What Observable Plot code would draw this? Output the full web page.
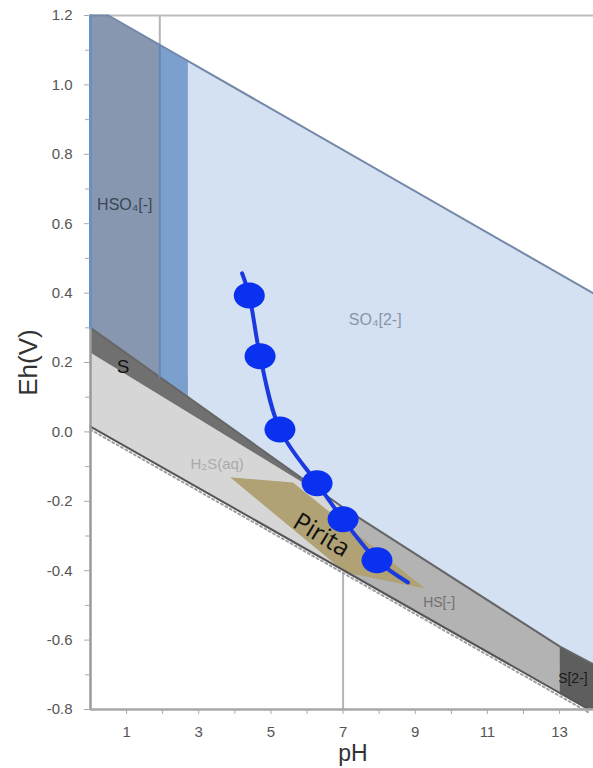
<!DOCTYPE html>
<html><head><meta charset="utf-8">
<script src="https://cdn.jsdelivr.net/npm/d3@7"></script>
<script src="https://cdn.jsdelivr.net/npm/@observablehq/plot@0.6"></script>
<style>body{margin:0;background:#fff}</style>
</head><body><div id="chart"></div>
<script>
// ---- tick values ----
const xLabelTicks = [1, 3, 5, 7, 9, 11, 13];
const xMinorTicks = [2, 4, 6, 8, 10, 12];
const yLabelTicks = [-0.8, -0.6, -0.4, -0.2, 0, 0.2, 0.4, 0.6, 0.8, 1.0, 1.2];
const yMinorTicks = [-0.7, -0.5, -0.3, -0.1, 0.1, 0.3, 0.5, 0.7, 0.9, 1.1];

// ---- stability fields, vertices [pH, Eh] ----
const hso4Region   = [[0, 1.2], [0.5, 1.2], [1.92, 1.116], [1.92, 0.158], [0, 0.30]];
const stripRegion  = [[1.92, 1.116], [2.7, 1.069], [2.7, 0.100], [1.92, 0.158]];
const so4Region    = [[2.7, 1.069], [13.94, 0.399], [13.94, -0.67], [13, -0.618], [7, -0.218], [2.7, 0.100]];
const sRegion      = [[0, 0.30], [6.9, -0.211], [0, 0.228]];
const h2sRegion    = [[0, 0.228], [6.9, -0.211], [7, -0.218], [7, -0.398], [0, 0.015]];
const hsRegion     = [[7, -0.218], [13, -0.618], [13, -0.752], [7, -0.398]];
const s2Region     = [[13, -0.618], [13.94, -0.67], [13.94, -0.8], [13.81, -0.8], [13, -0.752]];
const piritaRegion = [[3.87, -0.131], [5.61, -0.146], [9.27, -0.451], [7.06, -0.405]];

// ---- boundary lines ----
const upperWaterLine = [[0, 1.2], [0.5, 1.2], [13.94, 0.399]];
const lowerWaterLine = [[0, 0.015], [13.81, -0.8]];
const so4Boundary    = [[0, 0.30], [7, -0.218], [13, -0.618], [13.94, -0.67]];
const hso4LeftEdge   = [[0, 1.2], [0, 0.30]];
const stripLeftEdge  = [[1.92, 1.116], [1.92, 0.158]];

// ---- guide lines (pH, Eh from, Eh to) ----
const guidePH   = [1.92, 7];
const guideFrom = [1.116, -0.8];
const guideTo   = [1.2, -0.41];

// ---- measured path ----
const pathPH = [4.20, 4.40, 4.70, 5.25, 6.28, 7.00, 7.94, 8.80];
const pathEh = [0.457, 0.393, 0.218, 0.007, -0.148, -0.252, -0.370, -0.434];
const samplePH = [4.40, 4.70, 5.25, 6.28, 7.00, 7.94];
const sampleEh = [0.393, 0.218, 0.007, -0.148, -0.252, -0.370];

// ---- field labels ----
const labelText = ["HSO\u2084[-]", "SO\u2084[2-]", "S", "H\u2082S(aq)", "HS[-]", "S[2-]"];
const labelPH   = [0.95, 7.89, 0.9, 3.51, 9.66, 12.96];
const labelEh   = [0.653, 0.324, 0.186, -0.092, -0.492, -0.712];
const piritaText = "Pirita";
const piritaPH = 6.4, piritaEh = -0.298;
const xTitle = "pH", yTitle = "Eh(V)";

const path = pathPH.map((p, i) => ({pH: p, Eh: pathEh[i]}));
const samples = samplePH.map((p, i) => ({pH: p, Eh: sampleEh[i]}));
const labels = labelText.map((t, i) => ({t, pH: labelPH[i], Eh: labelEh[i]}));
const guides = guidePH.map((p, i) => ({pH: p, y1: guideFrom[i], y2: guideTo[i]}));

const ellipse = {
  draw(ctx) {
    const rx = 15.5, ry = 13, k = 0.5523;
    ctx.moveTo(rx, 0);
    ctx.bezierCurveTo(rx, ry * k, rx * k, ry, 0, ry);
    ctx.bezierCurveTo(-rx * k, ry, -rx, ry * k, -rx, 0);
    ctx.bezierCurveTo(-rx, -ry * k, -rx * k, -ry, 0, -ry);
    ctx.bezierCurveTo(rx * k, -ry, rx, -ry * k, rx, 0);
    ctx.closePath();
  }
};

const poly = (d, fill) => Plot.line(d, {x: d => d[0], y: d => d[1], fill, stroke: "none", curve: "linear-closed"});
const ln = (d, stroke, w, extra = {}) => Plot.line(d, {x: d => d[0], y: d => d[1], stroke, strokeWidth: w, ...extra});

const chart = Plot.plot({
  width: 593,
  height: 768,
  marginLeft: 90,
  marginRight: 0,
  marginTop: 15,
  marginBottom: 59,
  style: {fontFamily: "'Liberation Sans', Arial, sans-serif", background: "#fff"},
  x: {domain: [0, 13.94], label: null},
  y: {domain: [-0.8, 1.2], label: null},
  marks: [
    Plot.ruleX(guides, {x: "pH", y1: "y1", y2: "y2", stroke: "#b4b4b4", strokeWidth: 2}),
    Plot.ruleY([1.2], {stroke: "#bdbdbd", strokeWidth: 2}),
    poly(so4Region, "#d3e1f2"),
    poly(hso4Region, "#8797b0"),
    poly(stripRegion, "#7ba0cd"),
    poly(h2sRegion, "#d6d6d6"),
    poly(hsRegion, "#b3b3b3"),
    poly(s2Region, "#5e5e5e"),
    poly(sRegion, "#707070"),
    poly(piritaRegion, "#b0a274"),
    ln(lowerWaterLine, "#a0a0a0", 2, {strokeDasharray: "2,3", dy: 3}),
    ln(lowerWaterLine, "#555", 2),
    ln(so4Boundary, "#666", 2),
    ln(upperWaterLine, "#7388a8", 2),
    ln(stripLeftEdge, "#6688bb", 2),
    // axes
    Plot.ruleX([0], {stroke: "#9a9a9a", strokeWidth: 2.5}),
    Plot.ruleY([-0.8], {stroke: "#a8a8a8", strokeWidth: 2.5}),
    ln(hso4LeftEdge, "#6a8fc2", 3),
    Plot.axisY({ticks: yMinorTicks, tickSize: 5, text: null, stroke: "#aaa"}),
    Plot.axisY({ticks: yLabelTicks, tickSize: 6, tickPadding: 12, fontSize: 15, fill: "#555", stroke: "#aaa",
                tickFormat: d => d.toFixed(1)}),
    Plot.axisX({ticks: xMinorTicks, tickSize: 5, text: null, stroke: "#aaa"}),
    Plot.axisX({ticks: xLabelTicks, tickSize: 5, tickPadding: 12, fontSize: 15, fill: "#555", stroke: "#aaa",
                tickFormat: d => String(d)}),
    // field labels
    Plot.text(labels.slice(0, 1), {x: "pH", y: "Eh", text: "t", fontSize: 16, fill: "#3b4656"}),
    Plot.text(labels.slice(1, 2), {x: "pH", y: "Eh", text: "t", fontSize: 16, fill: "#8795a8"}),
    Plot.text(labels.slice(2, 3), {x: "pH", y: "Eh", text: "t", fontSize: 19, fill: "#111"}),
    Plot.text(labels.slice(3, 4), {x: "pH", y: "Eh", text: "t", fontSize: 15, fill: "#aaaaaa"}),
    Plot.text(labels.slice(4, 5), {x: "pH", y: "Eh", text: "t", fontSize: 14, fill: "#707070"}),
    Plot.text(labels.slice(5, 6), {x: "pH", y: "Eh", text: "t", fontSize: 14, fill: "#1a1a1a", textAnchor: "start"}),
    // measured path
    Plot.line(path, {x: "pH", y: "Eh", stroke: "#1a3ae0", strokeWidth: 4, curve: "catmull-rom"}),
    Plot.dot(samples, {x: "pH", y: "Eh", symbol: ellipse, fill: "#0a30f0", stroke: "none", r: 14}),
    Plot.text([piritaText], {x: () => piritaPH, y: () => piritaEh, text: d => d, rotate: 31, fontSize: 25,
                             fontFamily: "'Open Sans', sans-serif", fill: "#111"}),
    // axis titles
    Plot.text([xTitle], {frameAnchor: "bottom", text: d => d, textAnchor: "middle", dx: 11, dy: 44, fontSize: 23,
                         fill: "#333", lineAnchor: "middle"}),
    Plot.text([yTitle], {frameAnchor: "left", text: d => d, textAnchor: "middle", rotate: -90, dx: -62, dy: 0,
                         fontSize: 26, fill: "#333", lineAnchor: "middle"})
  ]
});
document.getElementById("chart").appendChild(chart);
</script>
</body></html>
